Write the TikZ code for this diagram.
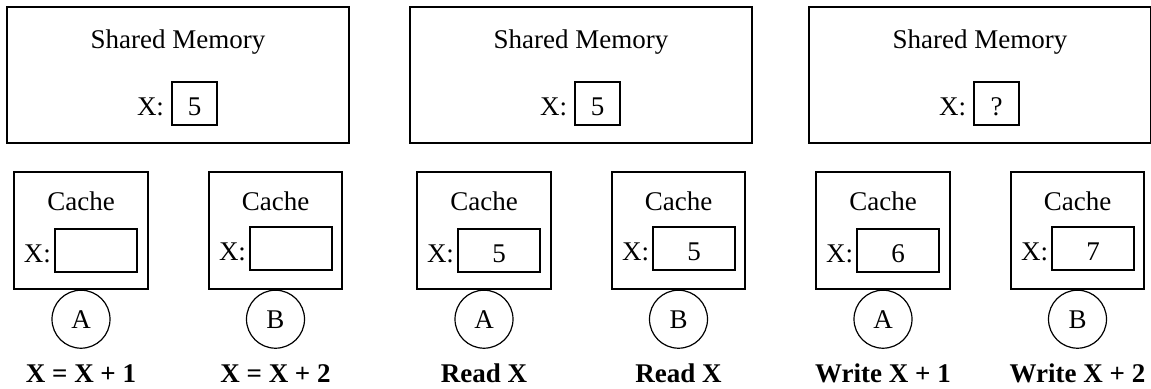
\documentclass[tikz,border=0pt]{standalone}
\usepackage{fontspec}
\setmainfont{Liberation Serif}
\usetikzlibrary{positioning}
\tikzset{
  box/.style={draw, line width=0.6pt, inner sep=0pt},
  valbox/.style={box, text height=12pt, text depth=0pt},
  lbl/.style={inner sep=0pt},
  proc/.style={draw, circle, line width=0.6pt, minimum size=29pt, inner sep=0pt},
  op/.style={inner sep=0pt, font=\fontsize{13.5}{16}\selectfont\bfseries},
}

\begin{document}
\begin{tikzpicture}[x=0.5pt, y=-0.5pt, font=\fontsize{13.5}{16}\selectfont]
  \useasboundingbox (0,0) rectangle (1151,388);
  \foreach \i/\off/\m/\va/\vb/\la/\lb in {
      1/0/5/{}/{}/{X = X + 1}/{X = X + 2},
      2/403/5/5/5/{Read X}/{Read X},
      3/802/?/6/7/{Write X + 1}/{Write X + 2}} {
    \begin{scope}[xshift=\off*0.5pt]
      % shared memory
      \node (mem\i) [box, minimum width=171pt, minimum height=68pt] at (178,75) {};
      \node (memt\i) [lbl, below=11.5pt of mem\i.north] {Shared Memory};
      \node (memv\i) [valbox, minimum width=22.5pt, minimum height=21.5pt] at (194.5,103.5) {\m};
      \node (memx\i) [lbl, anchor=base east] at ([xshift=-3.5pt]memv\i.base west) {X:};

      % caches
      \node (cacheA\i) [box, minimum width=67pt, minimum height=58.5pt] at (81,230.5) {};
      \node (cacheB\i) [box, minimum width=66.5pt, minimum height=58.5pt] at (275.5,230.5) {};
      \node (ctA\i) [lbl, below=10pt of cacheA\i.north] {Cache};
      \node (ctB\i) [lbl, below=10pt of cacheB\i.north] {Cache};
      \node (cvA\i) [valbox, minimum width=41pt, minimum height=21.5pt] at (96,250.5) {\va};
      \node (cvB\i) [valbox, minimum width=41pt, minimum height=21.5pt] at (291,248.5) {\vb};
      \node (cxA\i) [lbl, anchor=base east] at ([xshift=-1.5pt]cvA\i.base west) {X:};
      \node (cxB\i) [lbl, anchor=base east] at ([xshift=-1.5pt]cvB\i.base west) {X:};

      % processors
      \node (pA\i) [proc, below=0pt of cacheA\i] {A};
      \node (pB\i) [proc, below=0pt of cacheB\i] {B};
      \node (opA\i) [op, below=7.5pt of pA\i] {\la};
      \node (opB\i) [op, below=7.5pt of pB\i] {\lb};
    \end{scope}
  }
\end{tikzpicture}
\end{document}
